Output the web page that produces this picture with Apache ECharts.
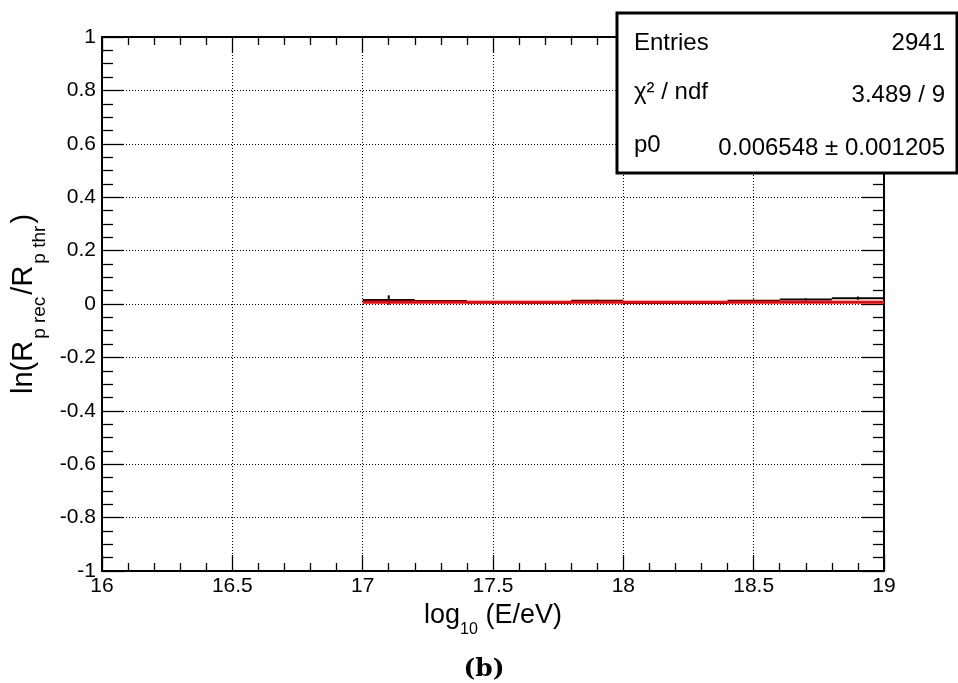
<!DOCTYPE html>
<html>
<head>
<meta charset="utf-8">
<script src="https://cdn.jsdelivr.net/npm/echarts@6/dist/echarts.min.js"></script>
<style>
  html, body { margin: 0; padding: 0; background: #fff; }
  #chart { width: 958px; height: 683px; }
</style>
</head>
<body>
<div id="chart"></div>
<script>
// Histogram bins of ln(R_p rec / R_p thr) versus log10(E/eV)
const binCenters = [17.1, 17.3, 17.5, 17.7, 17.9, 18.1, 18.3, 18.5, 18.7, 18.9];
const binWidth = 0.2;
const binValues = [0.015, 0.011, 0.006, 0.005, 0.012, 0.004, 0.004, 0.012, 0.017, 0.022];
const binErrors = [0.0175, 0.004, 0.003, 0.003, 0.004, 0.003, 0.003, 0.004, 0.0045, 0.006];

// Constant fit (pol0) over the filled range
const fitRange = [17, 19];
const fitP0 = 0.006548;

// Statistics box rows
const statsRows = [
  ['Entries', '2941'],
  ['\u03C7\u00B2 / ndf', '3.489 / 9'],
  ['p0', '0.006548 \u00B1 0.001205']
];

const FONT = 'Liberation Sans, Arial, Helvetica, sans-serif';

const chart = echarts.init(document.getElementById('chart'), null, { renderer: 'canvas' });

function xAxisDef(bottom) {
  return {
    type: 'value', min: 16, max: 19, interval: 0.5,
    position: bottom ? 'bottom' : 'top',
    axisLine: { show: true, onZero: false, lineStyle: { color: '#000', width: 2 } },
    axisTick: { show: true, inside: true, length: 16, lineStyle: { color: '#000', width: 1.3 } },
    minorTick: { show: true, splitNumber: 5, length: 8, lineStyle: { color: '#000', width: 1.3 } },
    splitLine: { show: bottom, lineStyle: { color: '#000', width: 1, type: [1, 2] } },
    minorSplitLine: { show: false },
    axisLabel: { show: bottom, color: '#000', fontSize: 21, fontFamily: FONT, margin: 5 },
    name: bottom ? '{n|log}{s|10}{n| (E/eV)}' : '',
    nameLocation: 'middle',
    nameGap: 26,
    nameTextStyle: {
      rich: {
        n: { fontSize: 27, fontFamily: FONT, color: '#000', lineHeight: 30, verticalAlign: 'top' },
        s: { fontSize: 16, fontFamily: FONT, color: '#000', lineHeight: 16, padding: [20, 0, 0, 0], verticalAlign: 'top' }
      }
    }
  };
}

function yAxisDef(left) {
  return {
    type: 'value', min: -1, max: 1, interval: 0.2,
    position: left ? 'left' : 'right',
    axisLine: { show: true, onZero: false, lineStyle: { color: '#000', width: 2 } },
    axisTick: { show: true, inside: true, length: 22, lineStyle: { color: '#000', width: 1.3 } },
    minorTick: { show: true, splitNumber: 4, length: 11, lineStyle: { color: '#000', width: 1.3 } },
    splitLine: { show: left, lineStyle: { color: '#000', width: 1, type: [1, 2] } },
    minorSplitLine: { show: false },
    axisLabel: { show: left, color: '#000', fontSize: 21, fontFamily: FONT, margin: 6 },
    name: left ? '{n|ln(R}{s|p rec}{n|/R}{s|p thr}{n|)}' : '',
    nameLocation: 'middle',
    nameRotate: 90,
    nameGap: 50,
    nameTextStyle: {
      rich: {
        n: { fontSize: 29, fontFamily: FONT, color: '#000', lineHeight: 32, verticalAlign: 'top' },
        s: { fontSize: 19, fontFamily: FONT, color: '#000', lineHeight: 19, padding: [20, 2, 0, 2], verticalAlign: 'top' }
      }
    }
  };
}

const histData = binCenters.map((c, i) => [c, binValues[i], binErrors[i]]);

const statsGraphics = [];
const boxX = 617, boxY = 13, boxW = 340, boxH = 160;
statsGraphics.push({
  type: 'rect', shape: { x: boxX, y: boxY, width: boxW, height: boxH },
  style: { fill: '#fff', stroke: '#000', lineWidth: 3 }, z: 100
});
const rowY = [43, 92, 145];
statsRows.forEach((row, i) => {
  statsGraphics.push({
    type: 'text', x: 634, y: rowY[i], z: 101,
    style: { text: row[0], fill: '#000', font: '24px ' + FONT, textVerticalAlign: 'middle', textAlign: 'left' }
  });
  statsGraphics.push({
    type: 'text', x: 945, y: rowY[i] + (i === 0 ? 0 : 3), z: 101,
    style: { text: row[1], fill: '#000', font: '24px ' + FONT, textVerticalAlign: 'middle', textAlign: 'right' }
  });
});
statsGraphics.push({
  type: 'text', x: 484, y: 669, z: 101,
  style: { text: '(b)', fill: '#000', font: 'bold 25px "DejaVu Serif", serif', textAlign: 'center', textVerticalAlign: 'middle' }
});

chart.setOption({
  backgroundColor: '#fff',
  animation: false,
  grid: { left: 102, right: 74, top: 37, bottom: 112, containLabel: false },
  xAxis: [xAxisDef(true), xAxisDef(false)],
  yAxis: [yAxisDef(true), yAxisDef(false)],
  graphic: statsGraphics,
  series: [
    {
      type: 'custom',
      xAxisIndex: 0, yAxisIndex: 0,
      data: histData,
      renderItem: function (params, api) {
        const c = api.value(0), v = api.value(1), e = api.value(2);
        const pL = api.coord([c - binWidth / 2, v]);
        const pR = api.coord([c + binWidth / 2, v]);
        const pT = api.coord([c, v + e]);
        const pB = api.coord([c, v - e]);
        return {
          type: 'group',
          children: [
            { type: 'line', shape: { x1: pL[0], y1: pL[1], x2: pR[0], y2: pR[1] }, style: { stroke: '#000', lineWidth: 2 } },
            { type: 'line', shape: { x1: pT[0], y1: pT[1], x2: pB[0], y2: pB[1] }, style: { stroke: '#000', lineWidth: 2 } }
          ]
        };
      },
      z: 5
    },
    {
      type: 'line',
      xAxisIndex: 0, yAxisIndex: 0,
      data: [[fitRange[0], fitP0], [fitRange[1], fitP0]],
      showSymbol: false,
      lineStyle: { color: '#ff0000', width: 3 },
      z: 6
    }
  ]
});
</script>
</body>
</html>
